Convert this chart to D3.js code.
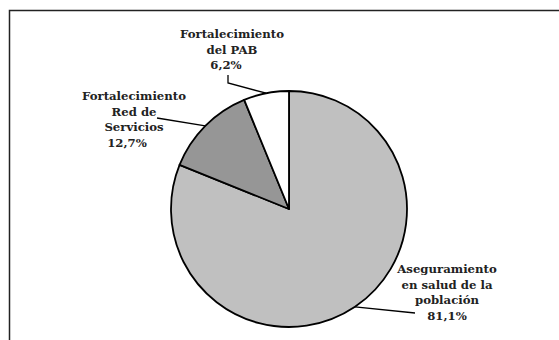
<!DOCTYPE html>
<html>
<head>
<meta charset="utf-8">
<script src="https://cdn.jsdelivr.net/npm/d3@7"></script>
<style>
  body { margin: 0; background: #fff; }
  svg { display: block; }
  .lbl { font-family: "DejaVu Serif", serif; font-weight: bold; font-size: 11.7px; fill: #222; }
</style>
</head>
<body>
<script>
// share of spending by component, clockwise from 12 o'clock
const categories = ["Aseguramiento en salud de la población", "Fortalecimiento Red de Servicios", "Fortalecimiento del PAB"];
const values = [81.1, 12.7, 6.2];
const valueLabels = ["81,1%", "12,7%", "6,2%"];
const labelLines = [
  ["Aseguramiento", "en salud de la", "población"],
  ["Fortalecimiento", "Red de", "Servicios"],
  ["Fortalecimiento", "del PAB"]
];
const colors = ["#c0c0c0", "#969696", "#ffffff"];

const width = 559, height = 340;
const cx = 289, cy = 209, r = 118;

// where each label block sits (center x, first line y) and where its leader starts
const labelPos = [
  { x: 447, y: 273, lx: 415, ly: 313, pctDx: 0 },
  { x: 134, y: 100, lx: 157, ly: 118, pctDx: -7 },
  { x: 232, y: 38, lx: 228, ly: 75, pctDx: -6 }
];
const lineH = 15.5;

const svg = d3.select("body").append("svg")
  .attr("width", width)
  .attr("height", height);

// frame (only top and left edges fall inside the picture)
svg.append("path")
  .attr("d", `M9.5,${height} V10.5 H${width}`)
  .attr("fill", "none")
  .attr("stroke", "#222")
  .attr("stroke-width", 1.5);

const pie = d3.pie().sort(null).value(d => d);
const arcs = pie(values);
const arc = d3.arc().innerRadius(0).outerRadius(r);

const g = svg.append("g").attr("transform", `translate(${cx},${cy})`);

g.selectAll(".slice")
  .data(arcs)
  .enter().append("path")
    .attr("class", "slice")
    .attr("d", arc)
    .attr("fill", (d, i) => colors[i])
    .attr("stroke", "#000")
    .attr("stroke-width", 1.8)
    .attr("stroke-linejoin", "round");

// leader lines from label to the slice edge
const edge = d => {
  const a = (d.startAngle + d.endAngle) / 2;
  return [cx + r * Math.sin(a), cy - r * Math.cos(a)];
};

arcs.forEach((d, i) => {
  const p = labelPos[i];
  const e = edge(d);
  let pts = [[p.lx, p.ly], e];
  if (i === 2) pts = [[p.lx, p.ly], [p.lx, p.ly + 8], e];
  svg.append("path")
    .attr("d", d3.line()(pts))
    .attr("fill", "none")
    .attr("stroke", "#000")
    .attr("stroke-width", 1.3);
});

// labels
arcs.forEach((d, i) => {
  const p = labelPos[i];
  const t = svg.append("text")
    .attr("class", "lbl")
    .attr("text-anchor", "middle");
  labelLines[i].forEach((line, k) => {
    t.append("tspan")
      .attr("x", p.x)
      .attr("y", p.y + k * lineH)
      .text(line);
  });
  t.append("tspan")
    .attr("x", p.x + p.pctDx)
    .attr("y", p.y + labelLines[i].length * lineH)
    .text(valueLabels[i]);
});
</script>
</body>
</html>
